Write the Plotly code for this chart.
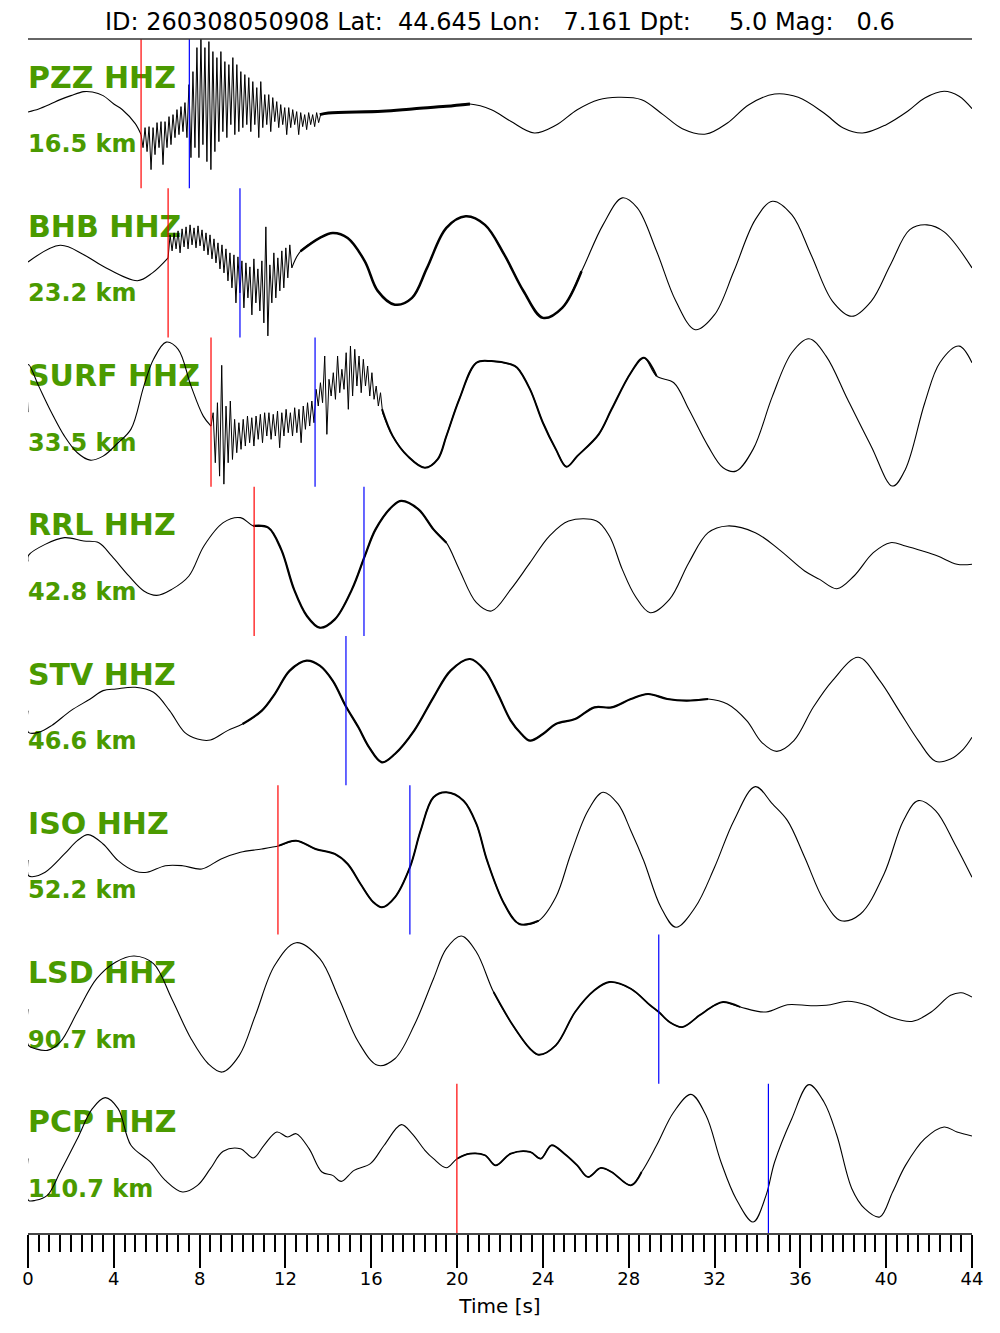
import plotly.graph_objects as go
from plotly.subplots import make_subplots

TITLE = "ID: 260308050908 Lat:  44.645 Lon:   7.161 Dpt:     5.0 Mag:   0.6"
STATIONS = ["PZZ HHZ", "BHB HHZ", "SURF HHZ", "RRL HHZ", "STV HHZ", "ISO HHZ", "LSD HHZ", "PCP HHZ"]
DISTANCES = ["16.5 km", "23.2 km", "33.5 km", "42.8 km", "46.6 km", "52.2 km", "90.7 km", "110.7 km"]
P_PICKS = [5.27, 6.53, 8.53, 10.54, None, 11.65, None, 19.99]
S_PICKS = [7.52, 9.88, 13.38, 15.66, 14.82, 17.8, 29.4, 34.51]

# smooth backbone of each trace (time [s], amplitude)
PZZ_T = [0, 0.5, 1, 1.5, 2, 2.6, 3, 3.5, 4, 4.4, 5, 5.27, 6, 7, 7.5, 8.5, 9.5, 10.5, 11.5, 12.5, 13.6, 14, 16.5,
         18, 19.5, 20.6, 21.6, 22.5, 23.6, 24.6, 25.6, 26.6, 27.5, 28.6, 29.6, 30.5, 31.6, 32.6, 33.6, 34.8, 35.9,
         37.1, 38, 38.9, 40, 41, 41.8, 42.7, 43.4, 44]
PZZ_A = [1.6, 4.6, 9, 14, 18, 22, 21.6, 18, 9.6, 3.9, -10, -19.4, -21, -9.4, -1, 12, 9, 2, -1, -4.4, -1, 0.6, 2.3,
         4.9, 7.3, 9.6, 3.9, -7.7, -19.4, -11.7, 3.9, 13.9, 16.3, 13.9, -1, -15, -20.4, -9.4, 8.9, 19.6, 16.3,
         0.6, -14.4, -19.4, -11, 2.3, 15.6, 22.3, 17.3, 4.9]

BHB_T = [0, 1.5, 2.6, 3.5, 5.1, 5.8, 6.53, 7, 8, 8.8, 9.5, 10, 10.6, 11.2, 11.8, 12.7, 13.6, 14.2, 14.9, 15.7,
         16.3, 17.1, 17.9, 18.6, 19.5, 20.4, 21.3, 22.2, 23.1, 24, 24.9, 25.8, 26.8, 27.7, 28.4, 29.3, 30.2,
         31.1, 32, 32.9, 33.9, 34.7, 35.6, 36.5, 37.5, 38.4, 39.3, 40.2, 41.1, 41.9, 42.7, 44]
BHB_A = [0.9, 17.6, 8.2, -3.4, -17.8, -10, 5, 22, 25, 14.9, 3, -8.4, -18, -15, -8.4, 11.6, 24.9, 29.9, 24.9, 1.6,
         -28, -41.8, -35, -5, 35, 46.6, 38, 8.2, -28.4, -55, -45, -8.4, 38, 65, 55, 11.6, -38.4, -66.8, -51.8,
         -8.4, 43.2, 61.6, 48.2, 8.2, -38.4, -53.4, -38.4, -1.8, 33.2, 38, 31, -5]

SURF_T = [0, 0.02, 0.5, 1.1, 1.7, 2.3, 2.9, 3.5, 4.2, 4.8, 5.4, 5.85, 6.44, 7.0, 7.6, 8.17, 8.53, 9, 10, 11, 12,
          13, 13.4, 14, 14.8, 15.4, 16, 16.5, 17, 17.7, 18.5, 19.1, 19.5, 20.1, 20.9, 21.6, 22.5, 22.8, 23.4, 24,
          24.6, 25.1, 25.6, 26.6, 27.2, 28.1, 28.7, 29.3, 30.1, 30.8, 31.7, 32.4, 33, 33.8, 34.7, 35.6, 36.4,
          37.2, 38.2, 39.3, 40.3, 40.9, 41.8, 42.5, 43.4, 44]
SURF_A = [0, 47.6, 26, -0.6, -24, -40.6, -48, -44, -30.6, -17, 26, 52.8, 70, 62.8, 26, -4, -14, -20, -22, -17,
          -12, -6, 0, 20, 33, 38, 28, 3, -24, -44, -55.6, -47, -24, 12.8, 49.4, 51, 47.8, 44.4, 22.8, -10.6,
          -37, -54.6, -44, -22.2, 2.8, 39.4, 54.4, 36, 29.4, 2.8, -34, -55.6, -59, -37, 16, 59.4, 73.4, 56,
          12.8, -34, -74, -57, 9.4, 49.4, 66, 49.4]

RRL_T = [0, 0.02, 0.8, 1.7, 2.6, 3.3, 3.9, 4.7, 5.4, 6.0, 6.7, 7.5, 8.2, 9.1, 9.9, 10.5, 11.2, 11.8, 12.4, 13,
         13.6, 14.3, 15.1, 15.7, 16.2, 17, 17.4, 18.2, 18.9, 19.5, 20.1, 20.9, 21.6, 22.5, 23.4, 24.3, 25.2,
         26.5, 27.1, 27.7, 28.3, 29, 29.9, 30.8, 31.7, 32.6, 33.9, 35, 36.2, 36.9, 37.7, 38.5, 39.4, 40.2,
         40.9, 41.7, 42.4, 43.3, 44]
RRL_A = [0, 6, 17, 23.7, 20.4, 18.7, 5.4, -14.6, -29.6, -34, -28, -14.6, 15.4, 38.7, 43.7, 35.4, 33.7, 12, -28,
         -54.6, -66.3, -58, -28, 5.4, 32, 55.4, 60.4, 52, 32, 18.7, -8, -41.3, -49.6, -28, -1.3, 25.3, 40.4,
         40.4, 25.3, -8, -34.6, -51.3, -38, -1.3, 28.7, 35.4, 28.7, 12, -9.6, -18, -27.3, -14.6, 8.7, 18.7,
         15.4, 10.4, 5.4, -2.9, -2.9]

STV_T = [0, 0.02, 0.5, 1.1, 2, 2.9, 3.5, 4.1, 5, 5.85, 6.6, 7.3, 7.9, 8.5, 9.3, 10, 10.9, 11.5, 12.2, 12.98,
         13.6, 14.2, 14.8, 15.4, 15.9, 16.5, 17.1, 18, 18.9, 19.7, 20.6, 21.3, 21.9, 22.5, 23, 23.4, 24, 24.6,
         25.5, 26.4, 27.2, 28.1, 28.9, 29.8, 30.7, 31.7, 32.6, 33.5, 34.2, 34.9, 35.7, 36.6, 37.5, 38.7, 39.7,
         40.6, 41.5, 42.3, 43, 43.6, 44]
STV_A = [0, -21.7, -21.7, -15, 0, 11.6, 20, 21.6, 23.3, 18.3, 0, -21.7, -28.4, -29.4, -20, -13.4, 0, 16.6, 40,
         50, 45, 30, 4.9, -16.7, -36.7, -51.7, -43.4, -20, 13.3, 40, 51.6, 40, 16.6, -10, -23.4, -30, -23.4,
         -13.4, -8.4, 3.3, 3.3, 11.6, 16.6, 11.6, 9.9, 11.6, 6.6, -10, -31.7, -40.7, -30, 3.3, 30, 53.3, 30, 0,
         -30, -50.7, -48.4, -38.4, -26.7]

ISO_T = [0, 0.02, 0.2, 0.8, 1.7, 2.3, 2.8, 3.5, 4.2, 5, 5.55, 6.4, 7.2, 8.1, 9, 9.9, 10.9, 11.7, 12.5, 13.4,
         14.3, 14.9, 15.5, 16.1, 16.5, 17.1, 17.8, 18.3, 18.9, 19.5, 20.3, 20.9, 21.4, 22.2, 22.9, 23.8, 24.6,
         25.3, 26.1, 26.8, 27.5, 28.1, 28.7, 29.5, 30.2, 31.1, 32, 32.9, 33.9, 34.7, 35.4, 36.2, 37.1, 37.9,
         38.8, 39.9, 40.8, 41.5, 42.3, 43.2, 44]
ISO_A = [0, -15.8, -16.8, -12.4, 5.9, 19.2, 25.2, 15.9, -0.8, -11.4, -12.4, -5.8, -5.8, -9.1, 0.9, 7.6, 10.9,
         14.2, 19.2, 10.9, 5.9, -4.1, -24.1, -42.4, -47.4, -37.4, -7.4, 29.2, 62.6, 67.6, 59.2, 35.9, -0.8,
         -44.1, -64.1, -60.8, -37.4, 5.9, 49.2, 67.6, 55.9, 29.2, -0.8, -47.4, -67.4, -47.4, -7.4, 39.2, 73.2,
         55.9, 39.2, 2.6, -40.8, -60.8, -54.1, -14.1, 39.2, 59.2, 49.2, 15.9, -17.4]

LSD_T = [0, 0.02, 0.35, 0.9, 1.5, 2.3, 3.2, 4.1, 4.95, 5.85, 6.7, 7.6, 8.4, 9.05, 9.85, 10.6, 11.5, 12.5, 13.6,
         14.5, 15.4, 16.3, 17.1, 18, 18.9, 19.5, 20.2, 20.9, 21.7, 22.6, 23.4, 23.8, 24.6, 25.5, 26.4, 27.1,
         28.1, 29, 29.4, 29.9, 30.5, 31.3, 32, 32.4, 33.2, 34.4, 35.4, 36.5, 37.4, 38.2, 39.1, 40.2, 41.2, 42.1,
         43, 43.5, 44]
LSD_A = [0, -36.2, -39.6, -41.2, -32.9, -2.9, 30.4, 47.1, 53.1, 45.4, 10.4, -29.6, -54.6, -62.9, -46.2, -6.2,
         43.8, 66.4, 50.4, 10.4, -32.9, -56.2, -49.6, -16.2, 30.4, 60.4, 73.1, 57.1, 17.1, -16.2, -39.6, -45.6,
         -36.2, -2.9, 18.8, 27.1, 20.4, 3.8, -2.9, -12.9, -17.9, -6.2, 3.8, 7.1, 2.1, -2.9, 4.4, 3.4, 4.4, 7.8,
         3.8, -7.9, -12.3, -2.9, 13.8, 16.4, 12.1]

PCP_T = [0, 0.02, 0.35, 0.9, 1.5, 2.3, 3, 3.6, 4.2, 4.8, 5.7, 6.4, 7.2, 7.9, 8.5, 9.1, 9.9, 10.5, 11.0, 11.6,
         12.1, 12.5, 13.1, 13.7, 14.2, 14.6, 15.2, 15.96, 16.6, 17.4, 17.9, 18.5, 18.9, 19.5, 20, 20.6, 21.3,
         21.8, 22.5, 23.4, 23.9, 24.4, 25, 25.6, 26.1, 26.7, 27.2, 28.1, 28.6, 29.3, 30.1, 30.9, 31.6, 32.3, 33,
         33.8, 34.4, 34.8, 35.6, 36.4, 37.1, 37.7, 38.4, 39, 39.7, 40.3, 40.9, 41.8, 42.7, 43.3, 44]
PCP_A = [0, -41.9, -41.9, -36.9, -13.6, 19.7, 49.7, 60.7, 49.7, 13.1, -3.6, -22, -33.6, -27, -10.3, 7.1, 9.7,
         0.4, 13.1, 26.4, 21.4, 24.7, 9.7, -13.6, -17, -23, -12, -5.3, 13.1, 33.7, 24.7, 8.1, -0.3, -9.3, -0.3,
         4.7, 3.1, -7, 4.7, 6.4, -0.3, 13.1, 4.7, -7, -18.6, -9.6, -13.6, -27, -13.6, 13.1, 46.4, 64, 43, -3.6,
         -40.3, -63.6, -37, -3.6, 39.7, 73.7, 56.4, 23.1, -30.3, -50.3, -58.6, -33.6, -7, 19.7, 31.4, 26.4, 22.4]

# high-frequency onsets, read sample by sample (start time, sample step, amplitudes)
PZZ_WIGGLE_T0, PZZ_WIGGLE_DT = 5.27, 0.093
PZZ_WIGGLE = [-21, -34, -14, -38, -13, -56, -14, -41, -9, -34, -8, -51, -8, -34, -3, -31, -1, -24, 4, -21, 7, -18,
              11, -24, 29, -44, 42, -34, 66, -44, 76, -31, 66, -48, 72, -56, 62, -38, 56, -28, 62, -18, 52, -24,
              49, -11, 56, -21, 49, -18, 42, -14, 39, -11, 36, -18, 32, -11, 26, -24, 32, -14, 19, -11, 19, -18,
              16, -8, 12, -14, 9, -11, 6, -21, 6, -14, 4, -11, 2, -21, 1, -13, -1, -16, 1, -11, -1, -13, 1, -9, -1]
BHB_WIGGLE_T0, BHB_WIGGLE_DT = 6.53, 0.093
BHB_WIGGLE = [5, 28, 12, 30, 14, 32, 10, 34, 16, 36, 14, 38, 18, 35, 15, 37, 17, 33, 12, 30, 8, 28, 4, 24, 0, 20,
              -6, 18, -10, 14, -18, 10, -25, 8, -40, 6, -30, 2, -45, 0, -35, -4, -52, 4, -40, -6, -48, 2, -60, 36,
              -73, -2, -40, 10, -35, 5, -28, 12, -25, 15, -15, 18, -5]
SURF_WIGGLE_T0, SURF_WIGGLE_DT = 8.53, 0.1
SURF_WIGGLE = [-14, -0.6, -50.6, 9.4, -64, 46.8, -72, 6, -50.6, 11.1, -47.3, -7.2, -40.6, -10.6, -37.2, -7.2,
               -33.9, -3.9, -30.6, -5.6, -33.9, -3.9, -27.2, -2.2, -30.6, -0.6, -23.9, -0.6, -27.2, -2.2, -23.9,
               1.1, -35.6, -0.6, -23.9, 2.8, -20.6, -0.6, -23.9, 4.4, -20.6, 2.8, -30.6, 6.1, -17.2, 9.4, -13.9,
               11.1, -10.6, 22.8, 6.1, 29.4, 9.4, 56.1, -22.2, 32.8, 16.1, 39.4, 12.8, 56.1, 19.4, 42.8, 22.8,
               59.4, 2.8, 66.1, 16.1, 62.8, 26.1, 56.1, 19.4, 52.8, 26.1, 46.1, 16.1, 39.4, 12.8, 26.1, 6.1, 19.4,
               -0.6]

BACKBONES = [(PZZ_T, PZZ_A), (BHB_T, BHB_A), (SURF_T, SURF_A), (RRL_T, RRL_A),
             (STV_T, STV_A), (ISO_T, ISO_A), (LSD_T, LSD_A), (PCP_T, PCP_A)]
WIGGLES = {0: (PZZ_WIGGLE_T0, PZZ_WIGGLE_DT, PZZ_WIGGLE),
           1: (BHB_WIGGLE_T0, BHB_WIGGLE_DT, BHB_WIGGLE),
           2: (SURF_WIGGLE_T0, SURF_WIGGLE_DT, SURF_WIGGLE)}
# stretches where the trace is drawn heavier (fine noise on the signal), with the stroke width used
NOISY = [(13.6, 20.6), (12.3, 26), (16.5, 30), (10.5, 20), (9.5, 31.7), (11.5, 24), (21, 34), (20, 29)]
NOISY_WIDTH = [3.0, 2.5, 2.0, 2.2, 2.2, 2.0, 1.8, 1.8]

GREEN = "#4a9a00"
FONT = "DejaVu Sans"
HALF = 74.6  # half height of a panel, in amplitude units


def add_line(fig, row, xs, ys, width, shape):
    if len(xs) < 2:
        return
    fig.add_trace(go.Scatter(x=xs, y=ys, mode="lines", hoverinfo="skip", showlegend=False,
                             line=dict(color="black", width=width, shape=shape)), row=row, col=1)


n = len(STATIONS)
fig = make_subplots(rows=n, cols=1, shared_xaxes=True, vertical_spacing=0)

for i in range(n):
    row = i + 1
    # labels first so the waveform is drawn over them
    fig.add_trace(go.Scatter(
        x=[0, 0], y=[33.5, -32.5], mode="text",
        text=["<b>%s</b>" % STATIONS[i], "<b>%s</b>" % DISTANCES[i]],
        textposition="middle right", cliponaxis=False,
        textfont=dict(family=FONT, size=[30, 24], color=GREEN),
        showlegend=False, hoverinfo="skip"), row=row, col=1)

    t, a = BACKBONES[i]
    if i in WIGGLES:
        t0, dt, w = WIGGLES[i]
        wt = [t0 + k * dt for k in range(len(w))]
        t_end = wt[-1]
        pre = [k for k in range(len(t)) if t[k] < t0]
        post = [k for k in range(len(t)) if t[k] > t_end]
        add_line(fig, row, [t[k] for k in pre] + [wt[0]], [a[k] for k in pre] + [w[0]], 1.1, "spline")
        add_line(fig, row, wt, w, 1.0, "linear")
        add_line(fig, row, [wt[-1]] + [t[k] for k in post], [w[-1]] + [a[k] for k in post], 1.1, "spline")
    else:
        add_line(fig, row, t, a, 1.1, "spline")

    lo, hi = NOISY[i]
    sel = [k for k in range(len(t)) if lo <= t[k] <= hi]
    add_line(fig, row, [t[k] for k in sel], [a[k] for k in sel], NOISY_WIDTH[i], "spline")

    xref = "x" if row == 1 else "x%d" % row
    yref = ("y" if row == 1 else "y%d" % row) + " domain"
    for pick, col in ((P_PICKS[i], "red"), (S_PICKS[i], "blue")):
        if pick is None:
            continue
        fig.add_shape(type="line", xref=xref, yref=yref, x0=pick, x1=pick, y0=0, y1=1,
                      line=dict(color=col, width=1.2))

    fig.update_yaxes(range=[-HALF, HALF], visible=False, fixedrange=True, row=row, col=1)
    if row < n:
        fig.update_xaxes(range=[0, 44], showticklabels=False, ticks="", showline=False,
                         showgrid=False, zeroline=False, row=row, col=1)

fig.update_xaxes(
    range=[0, 44], showgrid=False, zeroline=False, showline=True, linecolor="#444", linewidth=1.6,
    ticks="outside", tick0=0, dtick=4, ticklen=33, tickwidth=2, tickcolor="black",
    ticklabelstandoff=-4,
    tickfont=dict(family=FONT, size=18, color="black"),
    minor=dict(dtick=0.5, ticklen=17, tickwidth=2, tickcolor="black", ticks="outside"),
    title=dict(text="Time [s]", font=dict(family=FONT, size=20, color="black"), standoff=11),
    row=n, col=1)

fig.add_shape(type="line", xref="paper", yref="paper", x0=0, x1=1, y0=1, y1=1,
              line=dict(color="#333", width=1.6))
fig.add_annotation(text=TITLE.replace(" ", "\u00a0"), xref="paper", yref="paper", x=0.5, y=1.0142,
                   xanchor="center", yanchor="middle", showarrow=False,
                   font=dict(family=FONT, size=24, color="black"))

# the page body adds an 8 px offset, so the margins are shifted to compensate
fig.update_layout(width=1000, height=1333, margin=dict(l=20, r=36, t=31, b=108),
                  paper_bgcolor="white", plot_bgcolor="white", showlegend=False)

fig.write_html("out.html")
